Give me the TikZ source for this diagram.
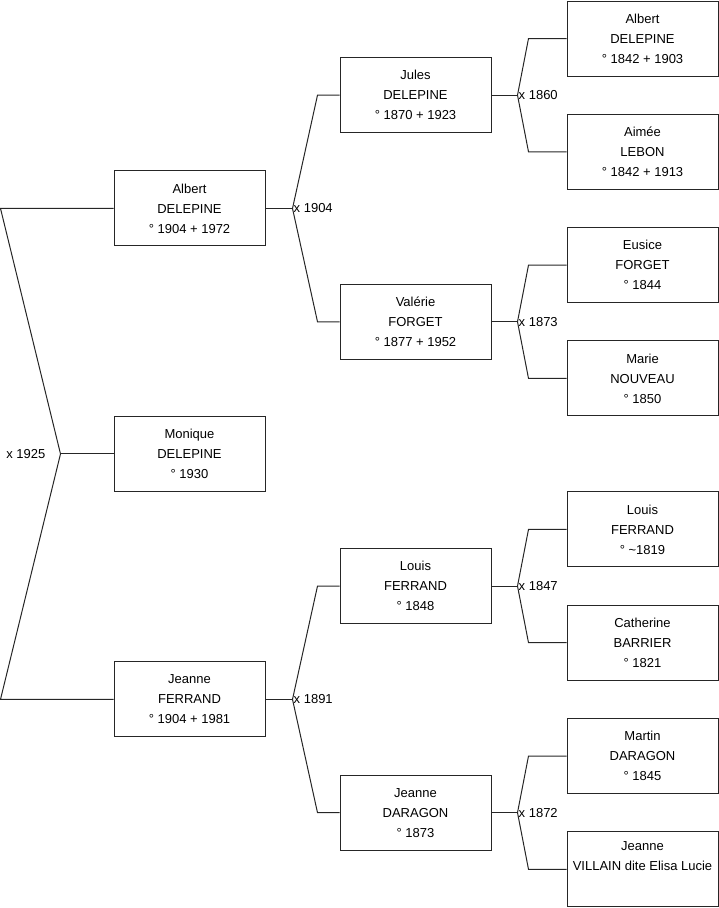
\documentclass[tikz,border=0pt]{standalone}
\usepackage{fontspec}
\setmainfont{Liberation Sans}
\usetikzlibrary{positioning, calc}

\begin{document}
\begin{tikzpicture}[
    x=1pt, y=-1pt,
    person/.style={rectangle, draw=black!85, line width=1pt,
                   minimum width=151pt, minimum height=75pt, align=center,
                   font=\fontsize{13}{20}\selectfont, inner sep=0pt},
    union/.style={font=\fontsize{13}{20}\selectfont, inner sep=1pt},
    link/.style={draw=black!85, line width=1pt},
    node distance=37.3pt and 76pt
  ]
  \useasboundingbox (0,0) rectangle (719,908);

  % grandparents
  \node[person] (g1) at (642.5,38.5) {Albert\\DELEPINE\\° 1842 + 1903};
  \node[person, below=of g1] (g2) {Aimée\\LEBON\\° 1842 + 1913};
  \node[person, below=of g2] (g3) {Eusice\\FORGET\\° 1844};
  \node[person, below=of g3] (g4) {Marie\\NOUVEAU\\° 1850};
  \node[person, below=75pt of g4] (g5) {Louis\\FERRAND\\° \textasciitilde1819};
  \node[person, below=of g5] (g6) {Catherine\\BARRIER\\° 1821};
  \node[person, below=of g6] (g7) {Martin\\DARAGON\\° 1845};
  \node[person, below=of g7] (g8) {Jeanne\\VILLAIN dite Elisa Lucie\\\strut};

  % parents
  \node[person] (p1) at ($(g1)!0.5!(g2)+(-227,0)$) {Jules\\DELEPINE\\° 1870 + 1923};
  \node[person] (p2) at ($(g3)!0.5!(g4)+(-227,0)$) {Valérie\\FORGET\\° 1877 + 1952};
  \node[person] (p3) at ($(g5)!0.5!(g6)+(-227,0)$) {Louis\\FERRAND\\° 1848};
  \node[person] (p4) at ($(g7)!0.5!(g8)+(-227,0)$) {Jeanne\\DARAGON\\° 1873};

  % couple and child
  \node[person] (a1) at ($(p1)!0.5!(p2)+(-226,0)$) {Albert\\DELEPINE\\° 1904 + 1972};
  \node[person] (a2) at ($(p3)!0.5!(p4)+(-226,0)$) {Jeanne\\FERRAND\\° 1904 + 1981};
  \node[person] (child) at ($(a1)!0.5!(a2)$) {Monique\\DELEPINE\\° 1930};

  % marriage points
  \coordinate (u0) at ($(child.west)+(-53,0)$);
  \coordinate (u1) at ($(a1.east)+(27,0)$);
  \coordinate (u2) at ($(a2.east)+(27,0)$);
  \coordinate (u3) at ($(p1.east)+(26,0)$);
  \coordinate (u4) at ($(p2.east)+(26,0)$);
  \coordinate (u5) at ($(p3.east)+(26,0)$);
  \coordinate (u6) at ($(p4.east)+(26,0)$);

  % links
  \draw[link] (a1.west) -- ($(a1.west)+(-113,0)$) -- (u0) -- ($(a2.west)+(-113,0)$) -- (a2.west);
  \draw[link] (u0) -- (child.west);
  \draw[link] (a1.east) -- (u1);
  \draw[link] (a2.east) -- (u2);
  \draw[link] (p1.west) -- ($(p1.west)+(-22,0)$) -- (u1) -- ($(p2.west)+(-22,0)$) -- (p2.west);
  \draw[link] (p3.west) -- ($(p3.west)+(-22,0)$) -- (u2) -- ($(p4.west)+(-22,0)$) -- (p4.west);
  \draw[link] (p1.east) -- (u3);
  \draw[link] (p2.east) -- (u4);
  \draw[link] (p3.east) -- (u5);
  \draw[link] (p4.east) -- (u6);
  \draw[link] (g1.west) -- ($(g1.west)+(-38,0)$) -- (u3) -- ($(g2.west)+(-38,0)$) -- (g2.west);
  \draw[link] (g3.west) -- ($(g3.west)+(-38,0)$) -- (u4) -- ($(g4.west)+(-38,0)$) -- (g4.west);
  \draw[link] (g5.west) -- ($(g5.west)+(-38,0)$) -- (u5) -- ($(g6.west)+(-38,0)$) -- (g6.west);
  \draw[link] (g7.west) -- ($(g7.west)+(-38,0)$) -- (u6) -- ($(g8.west)+(-38,0)$) -- (g8.west);

  % marriage years
  \node[union, anchor=east] (m0) at ($(u0)+(-14,0)$) {x 1925};
  \node[union, anchor=west] (m1) at (u1) {x 1904};
  \node[union, anchor=west] (m2) at (u2) {x 1891};
  \node[union, anchor=west] (m3) at (u3) {x 1860};
  \node[union, anchor=west] (m4) at (u4) {x 1873};
  \node[union, anchor=west] (m5) at (u5) {x 1847};
  \node[union, anchor=west] (m6) at (u6) {x 1872};
\end{tikzpicture}
\end{document}
